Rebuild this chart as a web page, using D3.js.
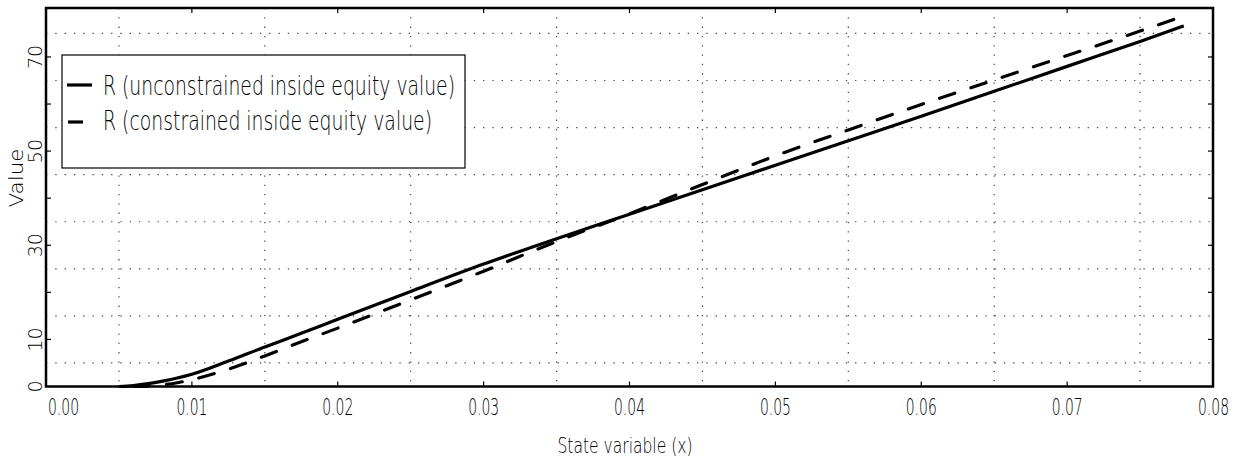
<!DOCTYPE html>
<html>
<head>
<meta charset="utf-8">
<script src="https://cdn.jsdelivr.net/npm/d3@7"></script>
<style>
  body { margin: 0; background: #fff; }
  svg { display: block; }
  text { font-family: "DejaVu Sans", sans-serif; font-weight: 200; fill: #000; }
</style>
</head>
<body>
<div class="chartContainer"></div>
<script>
const WIDTH = 1242;
const HEIGHT = 463;
const LEFT = 46;
const RIGHT = 1213;
const TOP = 8;
const BOTTOM = 386.5;

// data
var xUnconstrained = [0.005, 0.006, 0.007, 0.008, 0.009, 0.01, 0.0125, 0.015, 0.0175, 0.02, 0.025, 0.03, 0.035, 0.04, 0.045, 0.05, 0.055, 0.06, 0.065, 0.07, 0.075, 0.078];
var rUnconstrained = [0, 0.2, 0.6, 1.15, 1.8, 2.6, 5.4, 8.4, 11.3, 14.3, 20.2, 26.0, 31.4, 36.6, 41.8, 47.0, 52.2, 57.4, 62.7, 68.0, 73.3, 76.6];
var xConstrained = [0.006, 0.007, 0.008, 0.009, 0.01, 0.0115, 0.013, 0.015, 0.0175, 0.02, 0.025, 0.03, 0.035, 0.04, 0.045, 0.05, 0.055, 0.06, 0.065, 0.07, 0.075, 0.078];
var rConstrained = [0, 0.1, 0.35, 0.8, 1.45, 2.7, 4.2, 6.5, 9.5, 12.4, 18.4, 24.5, 30.8, 36.7, 42.9, 49.0, 54.5, 59.9, 65.1, 70.3, 75.5, 78.7];

var xTicks = [0, 0.01, 0.02, 0.03, 0.04, 0.05, 0.06, 0.07, 0.08];
var xGrid = [0.005, 0.015, 0.025, 0.035, 0.045, 0.055, 0.065, 0.075];
var yTicks = [10, 20, 30, 40, 50, 60, 70];
var yGrid = [5, 15, 25, 35, 45, 55, 65, 75];
var yLabels = [0, 10, 30, 50, 70];
var legendLabels = ['R (unconstrained inside equity value)', 'R (constrained inside equity value)'];

var x = d3.scaleLinear().domain([0, 0.08]).range([LEFT, RIGHT]);
var y = d3.scaleLinear().domain([0, 80.4]).range([BOTTOM, TOP]);

function drawGrid(svg) {
  svg.selectAll('.vgrid').data(xGrid).enter().append('line')
    .attr('x1', d => x(d)).attr('x2', d => x(d))
    .attr('y1', TOP).attr('y2', BOTTOM)
    .attr('stroke', '#444').attr('stroke-width', 1.2)
    .attr('stroke-dasharray', '1.3,8');
  svg.selectAll('.hgrid').data(yGrid).enter().append('line')
    .attr('x1', LEFT).attr('x2', RIGHT)
    .attr('y1', d => y(d)).attr('y2', d => y(d))
    .attr('stroke', '#444').attr('stroke-width', 1.2)
    .attr('stroke-dasharray', '1.3,8');
}

function drawTicks(svg) {
  var tl = 5;
  var xt = xTicks.slice(1, -1);
  svg.selectAll('.xtb').data(xt).enter().append('line')
    .attr('x1', d => x(d)).attr('x2', d => x(d))
    .attr('y1', BOTTOM).attr('y2', BOTTOM - tl)
    .attr('stroke', '#000').attr('stroke-width', 1.2);
  svg.selectAll('.xtt').data(xt).enter().append('line')
    .attr('x1', d => x(d)).attr('x2', d => x(d))
    .attr('y1', TOP).attr('y2', TOP + tl)
    .attr('stroke', '#000').attr('stroke-width', 1.2);
  svg.selectAll('.ytl').data(yTicks).enter().append('line')
    .attr('x1', LEFT).attr('x2', LEFT + tl)
    .attr('y1', d => y(d)).attr('y2', d => y(d))
    .attr('stroke', '#000').attr('stroke-width', 1.2);
  svg.selectAll('.ytr').data(yTicks).enter().append('line')
    .attr('x1', RIGHT).attr('x2', RIGHT - tl)
    .attr('y1', d => y(d)).attr('y2', d => y(d))
    .attr('stroke', '#000').attr('stroke-width', 1.2);
}

function drawLabels(svg) {
  var last = xTicks.length - 1;
  svg.selectAll('.xlab').data(xTicks).enter().append('text')
    .attr('x', (d, i) => i == 0 ? x(d) + 2 : (i == last ? x(d) + 16 : x(d)))
    .attr('y', 415)
    .attr('text-anchor', (d, i) => i == 0 ? 'start' : (i == last ? 'end' : 'middle'))
    .attr('font-size', 23)
    .attr('textLength', 31)
    .attr('lengthAdjust', 'spacingAndGlyphs')
    .text(d => d3.format('.2f')(d));

  svg.selectAll('.ylab').data(yLabels).enter().append('text')
    .attr('transform', d => 'translate(42,' + y(d) + ') rotate(-90)')
    .attr('text-anchor', 'middle')
    .attr('font-size', 19)
    .text(d => d);

  svg.append('text')
    .attr('x', 625).attr('y', 453)
    .attr('text-anchor', 'middle')
    .attr('font-size', 21)
    .attr('textLength', 135)
    .attr('lengthAdjust', 'spacingAndGlyphs')
    .text('State variable (x)');

  svg.append('text')
    .attr('transform', 'translate(23,178) rotate(-90)')
    .attr('text-anchor', 'middle')
    .attr('font-size', 19)
    .attr('textLength', 59)
    .attr('lengthAdjust', 'spacingAndGlyphs')
    .text('Value');
}

function drawCurves(svg) {
  var line = d3.line()
    .x(d => x(d[0]))
    .y(d => y(d[1]))
    .curve(d3.curveMonotoneX);
  var solid = xUnconstrained.map((v, i) => [v, rUnconstrained[i]]);
  var dashed = xConstrained.map((v, i) => [v, rConstrained[i]]);
  svg.append('path')
    .attr('d', line(solid))
    .attr('fill', 'none').attr('stroke', '#000')
    .attr('stroke-width', 3.2);
  svg.append('path')
    .attr('d', line(dashed))
    .attr('fill', 'none').attr('stroke', '#000')
    .attr('stroke-width', 3.2)
    .attr('stroke-linecap', 'round')
    .attr('stroke-dasharray', '16,17');
}

function drawLegend(svg) {
  var g = svg.append('g');
  g.append('rect')
    .attr('x', 62).attr('y', 55)
    .attr('width', 403).attr('height', 113)
    .attr('fill', '#fff').attr('stroke', '#000').attr('stroke-width', 1.2);
  g.append('line')
    .attr('x1', 67).attr('x2', 92).attr('y1', 85).attr('y2', 85)
    .attr('stroke', '#000').attr('stroke-width', 3.2);
  g.append('line')
    .attr('x1', 68).attr('x2', 83).attr('y1', 122).attr('y2', 122)
    .attr('stroke', '#000').attr('stroke-width', 3.2);
  var widths = [352, 329];
  var baselines = [95, 130];
  g.selectAll('.legtext').data(legendLabels).enter().append('text')
    .attr('x', 103)
    .attr('y', (d, i) => baselines[i])
    .attr('font-size', 27)
    .attr('textLength', (d, i) => widths[i])
    .attr('lengthAdjust', 'spacingAndGlyphs')
    .text(d => d);
}

function drawFrame(svg) {
  svg.append('rect')
    .attr('x', LEFT).attr('y', TOP)
    .attr('width', RIGHT - LEFT).attr('height', BOTTOM - TOP)
    .attr('fill', 'none').attr('stroke', '#000').attr('stroke-width', 2.5);
}

var generateChart = function () {
  var svg = d3.select('.chartContainer').append('svg')
    .attr('width', WIDTH).attr('height', HEIGHT);
  drawGrid(svg);
  drawTicks(svg);
  drawCurves(svg);
  drawLegend(svg);
  drawFrame(svg);
  drawLabels(svg);
};

window.onload = generateChart;
</script>
</body>
</html>
